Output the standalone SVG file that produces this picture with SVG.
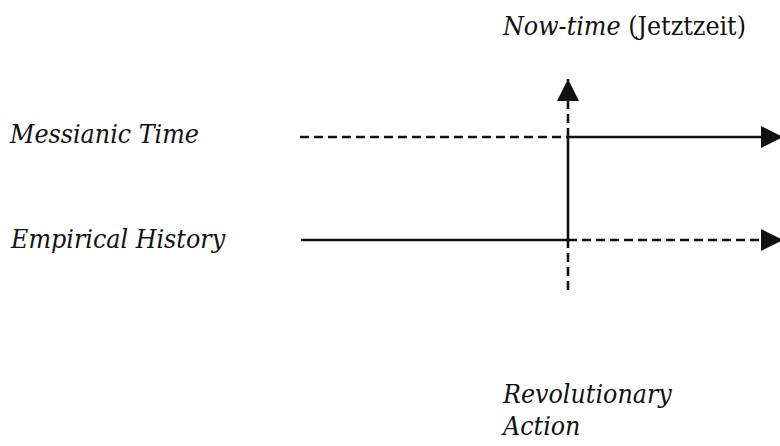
<svg xmlns="http://www.w3.org/2000/svg" width="780" height="446" viewBox="0 0 780 446">
<defs>
<style>
.t{font-family:'DejaVu Serif Condensed','DejaVu Serif',serif;font-stretch:condensed;font-size:26.5px;fill:#111}
.it{font-style:italic}
.s{stroke:#111;stroke-width:2.6;fill:none}
.d{stroke:#111;stroke-width:2.6;fill:none;stroke-dasharray:9 5}
</style>
<marker id="ah" viewBox="0 0 22 22" refX="22" refY="11" markerWidth="22" markerHeight="22" markerUnits="userSpaceOnUse" orient="auto">
<path d="M0,0 L22,11 L0,22 Z" fill="#111"/>
</marker>
</defs>
<rect width="780" height="446" fill="#fff"/>
<g id="label-nowtime"><text class="t" x="503" y="35"><tspan class="it">Now-time</tspan> (Jetztzeit)</text></g>
<g id="label-messianic"><text class="t it" x="10" y="143">Messianic Time</text></g>
<g id="label-empirical"><text class="t it" x="11" y="248">Empirical History</text></g>
<g id="label-revolutionary"><text class="t it" x="503" y="403">Revolutionary</text><text class="t it" x="503" y="435">Action</text></g>
<g id="connectors">
<line class="d" x1="300" y1="137" x2="568" y2="137"/>
<line class="s" x1="568" y1="137" x2="783" y2="137" marker-end="url(#ah)"/>
<line class="s" x1="301" y1="240" x2="568" y2="240"/>
<line class="d" x1="568" y1="240" x2="783" y2="240" marker-end="url(#ah)"/>
<line class="s" x1="568" y1="137" x2="568" y2="240"/>
<line class="d" x1="568" y1="290" x2="568" y2="240"/>
<line class="d" x1="568" y1="137" x2="568" y2="79" marker-end="url(#ah)"/>
</g>
</svg>
